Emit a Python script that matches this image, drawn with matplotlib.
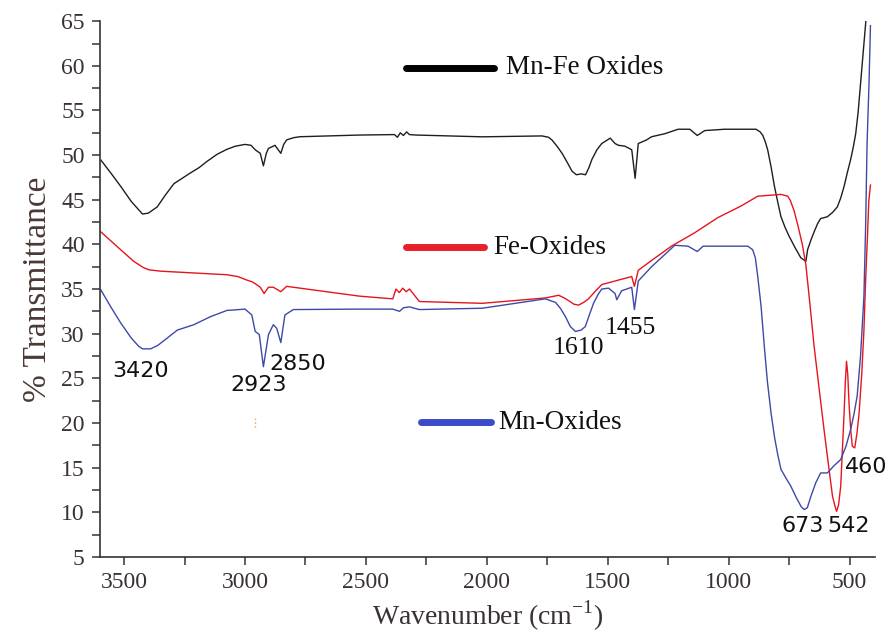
import matplotlib
matplotlib.use("Agg")
import matplotlib.pyplot as plt
from matplotlib.ticker import MultipleLocator

plt.rcParams['font.family'] = ['Liberation Serif', 'DejaVu Serif']
plt.rcParams['mathtext.fontset'] = 'custom'
plt.rcParams['mathtext.rm'] = 'Liberation Serif'

# Mn-Fe oxides (black)
wn_mnfe = [3596, 3555, 3514, 3470, 3424, 3400, 3363, 3330, 3294, 3260, 3226, 3190,
           3157, 3115, 3075, 3040, 3000, 2975, 2958, 2937, 2924, 2912, 2903, 2876,
           2852, 2840, 2828, 2800, 2773, 2526, 2382, 2370, 2358, 2345, 2332, 2320,
           2293, 2019, 1772, 1745, 1731, 1710, 1689, 1668, 1648, 1630, 1610, 1592,
           1578, 1566, 1545, 1525, 1490, 1470, 1456, 1429, 1401, 1387, 1374, 1340,
           1319, 1264, 1209, 1161, 1130, 1099, 1017, 887, 870, 859, 849, 839, 825,
           811, 797, 784, 767, 750, 725, 702, 681, 674, 660, 647, 633, 620, 605, 592,
           570, 551, 537, 523, 510, 496, 485, 475, 465, 455, 445, 434, 425]
t_mnfe = [49.45, 48.0, 46.5, 44.8, 43.4, 43.5, 44.2, 45.5, 46.8, 47.4, 48.0, 48.6,
          49.3, 50.1, 50.65, 51.0, 51.2, 51.1, 50.6, 50.2, 48.8, 50.2, 50.75, 51.1,
          50.2, 51.2, 51.7, 51.95, 52.06, 52.25, 52.3, 52.0, 52.5, 52.2, 52.6, 52.3,
          52.25, 52.05, 52.15, 52.0, 51.7, 51.0, 50.2, 49.2, 48.2, 47.8, 47.9, 47.8,
          48.6, 49.5, 50.6, 51.3, 51.9, 51.3, 51.1, 51.0, 50.6, 47.4, 51.3, 51.7,
          52.06, 52.4, 52.9, 52.9, 52.2, 52.75, 52.9, 52.9, 52.6, 52.2, 51.5, 50.6,
          48.7, 46.5, 44.7, 43.1, 41.9, 40.9, 39.6, 38.5, 38.1, 39.4, 40.5, 41.4,
          42.3, 42.9, 43.0, 43.1, 43.6, 44.2, 45.2, 46.5, 48.0, 49.5, 50.9, 52.4,
          54.8, 58.0, 61.2, 64.7, 68.0]

# Fe oxides (red)
wn_fe = [3596, 3555, 3514, 3460, 3420, 3397, 3349, 3212, 3075, 3030, 2992, 2970,
         2958, 2937, 2921, 2903, 2883, 2852, 2828, 2526, 2389, 2376, 2362, 2348,
         2334, 2320, 2279, 2019, 1758, 1703, 1680, 1662, 1640, 1621, 1600, 1580,
         1550, 1525, 1470, 1401, 1390, 1374, 1319, 1237, 1141, 1045, 949, 880, 784,
         756, 745, 737, 729, 712, 695, 681, 665, 647, 626, 606, 588, 571, 560, 554,
         546, 537, 523, 518, 513, 508, 502, 495, 489, 479, 470, 461, 450, 441, 434,
         427, 421, 414]
t_fe = [41.4, 40.4, 39.4, 38.1, 37.4, 37.15, 37.0, 36.8, 36.6, 36.4, 36.0, 35.8,
        35.6, 35.2, 34.5, 35.2, 35.2, 34.7, 35.3, 34.2, 33.9, 35.0, 34.6, 35.1,
        34.7, 35.0, 33.6, 33.4, 34.0, 34.3, 34.0, 33.7, 33.3, 33.2, 33.5, 33.9,
        34.8, 35.5, 35.9, 36.4, 35.3, 37.1, 38.2, 39.8, 41.3, 43.0, 44.3, 45.4, 45.6,
        45.4, 44.9, 44.3, 43.7, 41.9, 39.9, 37.7, 33.5, 28.6, 23.8, 19.25, 15.4,
        11.8, 10.6, 10.1, 10.8, 12.9, 21.1, 24.5, 26.9, 25.5, 21.9, 19.0, 17.4, 17.2,
        18.8, 21.1, 25.5, 30.4, 36.0, 40.5, 44.8, 46.65]

# Mn oxides (blue)
wn_mn = [3596, 3555, 3514, 3470, 3440, 3424, 3390, 3360, 3322, 3280, 3212, 3143,
         3075, 3000, 2972, 2958, 2941, 2924, 2903, 2883, 2869, 2852, 2835, 2800,
         2526, 2389, 2361, 2345, 2320, 2279, 2019, 1758, 1716, 1695, 1675, 1655,
         1634, 1610, 1593, 1575, 1559, 1540, 1525, 1497, 1470, 1463, 1443, 1401,
         1390, 1374, 1319, 1223, 1168, 1130, 1106, 921, 901, 890, 880, 866, 853, 840,
         825, 810, 797, 784, 765, 743, 720, 700, 688, 675, 660, 640, 620, 592, 565,
         537, 515, 496, 482, 469, 455, 441, 434, 428, 420, 414]
t_mn = [34.9, 33.0, 31.2, 29.5, 28.6, 28.3, 28.3, 28.7, 29.5, 30.4, 31.0, 31.9,
        32.6, 32.75, 32.1, 30.25, 29.9, 26.3, 29.9, 31.0, 30.6, 29.0, 32.1, 32.7,
        32.75, 32.75, 32.5, 32.9, 33.0, 32.7, 32.85, 33.9, 33.5, 32.8, 31.9, 30.8,
        30.25, 30.4, 30.8, 32.2, 33.4, 34.4, 35.0, 35.1, 34.5, 33.8, 34.8, 35.2,
        32.7, 35.9, 37.5, 39.9, 39.8, 39.2, 39.8, 39.8, 39.4, 38.5, 36.4, 33.0, 28.6,
        24.6, 21.1, 18.3, 16.4, 14.8, 13.9, 12.9, 11.6, 10.6, 10.3, 10.5, 11.8, 13.3,
        14.4, 14.4, 15.2, 15.9, 17.4, 19.25, 21.0, 23.0, 27.5, 34.2, 42.0, 51.3,
        58.0, 64.5]

# peak labels: text, wavenumber, transmittance, serif font or not
peak_labels = ['3420', '2923', '2850', '1610', '1455', '673', '542', '460']
peak_x = [3433, 2942, 2783, 1621, 1407, 695, 506, 432]
peak_y = [25.85, 24.2, 26.6, 28.4, 30.6, 8.4, 8.4, 15.1]
peak_serif = [False, False, False, True, True, False, False, False]

# in-plot legend: name, line start/end, level
legend_names = ['Mn-Fe Oxides', 'Fe-Oxides', 'Mn-Oxides']
legend_x0 = [2333, 2333, 2272]
legend_x1 = [1970, 2012, 1984]
legend_y = [59.8, 39.7, 20.1]
legend_text_x = [1922, 1975, 1952]

fig = plt.figure(figsize=(8.92, 6.43), dpi=100)
ax = fig.add_axes([0.112, 0.134, 0.869, 0.833])

ax.plot(wn_mnfe, t_mnfe, color='#1e1e1e', lw=1.0)
ax.plot(wn_fe, t_fe, color='#e5141e', lw=1.0)
ax.plot(wn_mn, t_mn, color='#3d4aa6', lw=1.0)

leg_colors = ['#000000', '#e8202a', '#3b4cc8']
for name, x0, x1, y, tx, c in zip(legend_names, legend_x0, legend_x1, legend_y,
                                  legend_text_x, leg_colors):
    ax.plot([x0, x1], [y, y], color=c, lw=5, solid_capstyle='round')
    ax.text(tx, y, name, fontsize=19.5, va='center', ha='left', color='#111111')

for lab, x, y, serif in zip(peak_labels, peak_x, peak_y, peak_serif):
    fam = ['Liberation Serif'] if serif else ['DejaVu Sans']
    ax.text(x, y, lab, family=fam, fontsize=18.5 if serif else 16,
            ha='center', va='center', color='#111111', clip_on=False)

# small orange artifact mark
ax.plot([2958, 2958], [19.6, 20.8], ls=':', color='#f0a040', lw=1.0)

ax.set_xlim(3600, 395)
ax.set_ylim(5, 65)
ax.xaxis.set_major_locator(MultipleLocator(500))
ax.xaxis.set_minor_locator(MultipleLocator(250))
ax.yaxis.set_major_locator(MultipleLocator(5))
ax.yaxis.set_minor_locator(MultipleLocator(2.5))

for s in ['top', 'right']:
    ax.spines[s].set_visible(False)
for s in ['left', 'bottom']:
    ax.spines[s].set_color('#333333')
    ax.spines[s].set_linewidth(1.2)

ax.tick_params(which='both', direction='out', length=6, width=1.1,
               color='#333333', labelsize=17, labelcolor='#3a3232', pad=5)

ax.set_xlabel('Wavenumber (cm$^{-1}$)', fontsize=20, color='#3a3232', labelpad=4)
ax.set_ylabel('% Transmittance', fontsize=24, color='#4a3a35', labelpad=6)

fig.savefig('out.png', dpi=100)
